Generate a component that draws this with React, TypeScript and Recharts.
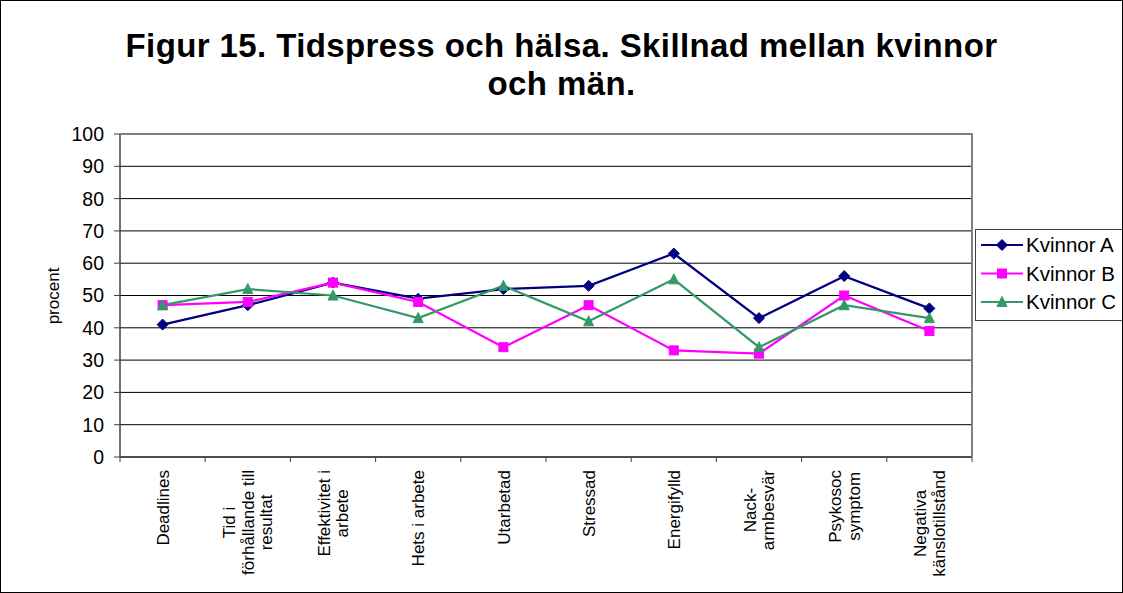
import { ComposedChart, Line, XAxis, YAxis, CartesianGrid, Legend } from 'recharts';

const categories = [
  'Deadlines',
  'Tid i\nförhållande till\nresultat',
  'Effektivitet i\narbete',
  'Hets i arbete',
  'Utarbetad',
  'Stressad',
  'Energifylld',
  'Nack-\narmbesvär',
  'Psykosoc\nsymptom',
  'Negativa\nkänslotillstånd'
];

const kvinnorA = [41, 47, 54, 49, 52, 53, 63, 43, 56, 46];
const kvinnorB = [47, 48, 54, 48, 34, 47, 33, 32, 50, 39];
const kvinnorC = [47, 52, 50, 43, 53, 42, 55, 34, 47, 43];

const yTicks = [0, 10, 20, 30, 40, 50, 60, 70, 80, 90, 100];

const titleLines = ['Figur 15. Tidspress och hälsa. Skillnad mellan kvinnor', 'och män.'];
const yLabel = 'procent';

const series = [
  { key: 'A', name: 'Kvinnor A', color: '#000080', shape: 'diamond' },
  { key: 'B', name: 'Kvinnor B', color: '#FF00FF', shape: 'square' },
  { key: 'C', name: 'Kvinnor C', color: '#339966', shape: 'triangle' }
];

const chartData = categories.map((name, i) => ({
  name,
  A: kvinnorA[i],
  B: kvinnorB[i],
  C: kvinnorC[i]
}));

const W = 1123;
const H = 593;
const PLOT_LEFT = 120;
const PLOT_RIGHT = 972;
const PLOT_TOP = 134;
const PLOT_BOTTOM = 457;
const Y_AXIS_W = 60;
const STEP = (PLOT_RIGHT - PLOT_LEFT) / categories.length;
const FONT = '"Liberation Sans", Arial, sans-serif';
const AXIS_COLOR = '#404040';

const X_FONT = 17;
const X_LINE_H = 18.5;

let measureCtx: CanvasRenderingContext2D | null = null;
function measure(text: string) {
  if (!measureCtx) {
    measureCtx = document.createElement('canvas').getContext('2d');
  }
  if (!measureCtx) return text.length * X_FONT * 0.5;
  measureCtx.font = `${X_FONT}px ${FONT}`;
  return measureCtx.measureText(text).width;
}

function Marker({ cx, cy, shape, color }: { cx: number; cy: number; shape: string; color: string }) {
  if (cx == null || cy == null) return null;
  if (shape === 'diamond') {
    const r = 5.5;
    return <polygon points={`${cx},${cy - r} ${cx + r},${cy} ${cx},${cy + r} ${cx - r},${cy}`} fill={color} stroke={color} />;
  }
  if (shape === 'square') {
    const r = 4.5;
    return <rect x={cx - r} y={cy - r} width={r * 2} height={r * 2} fill={color} stroke={color} />;
  }
  const r = 5;
  return <polygon points={`${cx},${cy - r - 0.5} ${cx + r},${cy + r - 0.5} ${cx - r},${cy + r - 0.5}`} fill={color} stroke={color} />;
}

const XTick = (props: any) => {
  const { x, payload, index } = props;
  const lines = String(payload.value).split('\n');
  const maxLen = Math.max(...lines.map(measure));
  const startY = PLOT_BOTTOM + 13;
  const c = startY + maxLen / 2;
  const n = lines.length;
  return (
    <g>
      <line x1={x - STEP / 2} x2={x - STEP / 2} y1={PLOT_BOTTOM} y2={PLOT_BOTTOM + 5} stroke={AXIS_COLOR} />
      {index === categories.length - 1 && (
        <line x1={x + STEP / 2} x2={x + STEP / 2} y1={PLOT_BOTTOM} y2={PLOT_BOTTOM + 5} stroke={AXIS_COLOR} />
      )}
      <text
        transform={`rotate(-90 ${x} ${c})`}
        fontSize={X_FONT}
        fontFamily={FONT}
        fill="#000"
        textAnchor="middle"
      >
        {lines.map((l, i) => (
          <tspan key={i} x={x} y={c + (i - (n - 1) / 2) * X_LINE_H + X_FONT * 0.36}>
            {l}
          </tspan>
        ))}
      </text>
    </g>
  );
};

const renderLegend = () => (
  <div
    style={{
      width: 150,
      height: 92,
      boxSizing: 'border-box',
      border: `1px solid ${AXIS_COLOR}`,
      background: '#fff'
    }}
  >
    <svg width={148} height={90} style={{ display: 'block' }}>
      {series.map((s, i) => {
        const cy = 15 + i * 28.5;
        return (
          <g key={s.key}>
            <line x1={5} x2={47} y1={cy} y2={cy} stroke={s.color} strokeWidth={2} />
            <Marker cx={26} cy={cy} shape={s.shape} color={s.color} />
            <text x={50} y={cy + 7} fontSize={20.5} fontFamily={FONT} fill="#000">
              {s.name}
            </text>
          </g>
        );
      })}
    </svg>
  </div>
);

export default function App() {
  return (
    <div style={{ position: 'absolute', left: 0, top: 0, width: W, height: H, background: '#fff', fontFamily: FONT }}>
      <div
        style={{
          position: 'absolute',
          left: 0,
          top: 27,
          width: W,
          textAlign: 'center',
          fontSize: 33,
          letterSpacing: 0.4,
          lineHeight: '38px',
          fontWeight: 'bold',
          color: '#000'
        }}
      >
        {titleLines.map((t) => (
          <div key={t}>{t}</div>
        ))}
      </div>
      <div
        style={{
          position: 'absolute',
          left: 53,
          top: (PLOT_TOP + PLOT_BOTTOM) / 2,
          fontSize: 17,
          lineHeight: '17px',
          whiteSpace: 'nowrap',
          transform: 'translate(-50%, -50%) rotate(-90deg)'
        }}
      >
        {yLabel}
      </div>
      <ComposedChart
        width={W}
        height={H}
        data={chartData}
        margin={{ top: PLOT_TOP, right: W - PLOT_RIGHT, bottom: 0, left: PLOT_LEFT - Y_AXIS_W }}
        style={{ position: 'absolute', left: 0, top: 0 }}
      >
        <CartesianGrid vertical={false} stroke="#000" />
        <XAxis
          dataKey="name"
          interval={0}
          height={H - PLOT_BOTTOM}
          padding={{ left: STEP / 2, right: STEP / 2 }}
          axisLine={{ stroke: AXIS_COLOR, strokeWidth: 1.5 }}
          tickLine={false}
          tick={<XTick />}
        />
        <YAxis
          domain={[0, 100]}
          ticks={yTicks}
          width={Y_AXIS_W}
          axisLine={{ stroke: AXIS_COLOR, strokeWidth: 1.5 }}
          tickLine={{ stroke: AXIS_COLOR }}
          tickSize={6}
          tickMargin={10}
          tick={{ fontSize: 19.5, fontFamily: FONT, fill: '#000' }}
        />
        <Legend
          layout="vertical"
          align="center"
          verticalAlign="middle"
          content={renderLegend}
          wrapperStyle={{ position: 'absolute', left: 975, top: 229, width: 150, height: 92 }}
        />
        {series.map((s) => (
          <Line
            key={s.key}
            dataKey={s.key}
            name={s.name}
            stroke={s.color}
            strokeWidth={2.25}
            isAnimationActive={false}
            dot={(p: any) => <Marker key={`${s.key}-${p.index}`} cx={p.cx} cy={p.cy} shape={s.shape} color={s.color} />}
            activeDot={false}
          />
        ))}
      </ComposedChart>
      {/* plot area border (top and right) */}
      <div
        style={{
          position: 'absolute',
          left: PLOT_LEFT,
          top: PLOT_TOP - 1,
          width: PLOT_RIGHT - PLOT_LEFT + 1,
          height: PLOT_BOTTOM - PLOT_TOP + 1,
          boxSizing: 'border-box',
          borderTop: '2px solid #808080',
          borderRight: '2px solid #808080',
          pointerEvents: 'none'
        }}
      />
      <div
        style={{
          position: 'absolute',
          left: 0,
          top: 0,
          width: W,
          height: H,
          boxSizing: 'border-box',
          border: '1px solid #000',
          pointerEvents: 'none'
        }}
      />
    </div>
  );
}
